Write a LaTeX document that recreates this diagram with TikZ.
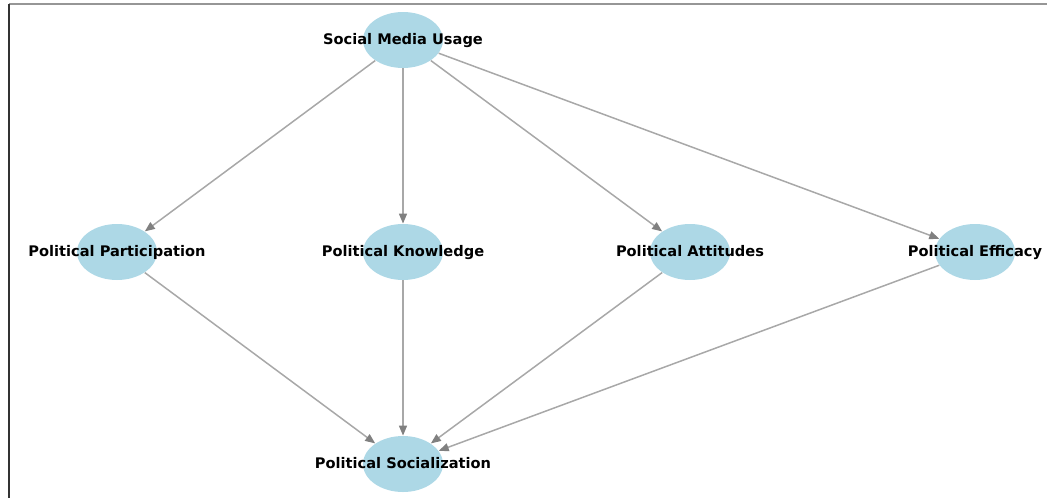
\documentclass[tikz,border=0pt]{standalone}
\usepackage{fontspec}
\setsansfont{DejaVu Sans}
\usetikzlibrary{shapes.geometric,arrows.meta}
\definecolor{NodeBlue}{RGB}{173,216,230}
\definecolor{EdgeGray}{RGB}{168,168,168}
\definecolor{FrameGray}{RGB}{150,150,150}
\tikzset{
  var/.style={ellipse,fill=NodeBlue,minimum width=40pt,minimum height=28pt,inner sep=0pt},
  lbl/.style={font=\sffamily\bfseries\fontsize{7.3}{8}\selectfont,inner sep=0pt,text height=5.4pt,text depth=1.4pt},
  link/.style={draw=EdgeGray,line width=0.75pt,-{Triangle[length=5pt,width=4pt,color=gray]}},
}

\begin{document}
\begin{tikzpicture}[x=0.5pt,y=-0.5pt]
\useasboundingbox (0,0) rectangle (1047,498);
% frame
\draw[FrameGray,line width=1pt] (9,4) -- (1047,4);
\draw[black!80,line width=1pt] (9,4) -- (9,498);
% variables
\node[var] (smu) at (403,40) {};
\node[var] (pp) at (117,252) {};
\node[var] (pk) at (403,252) {};
\node[var] (pa) at (690,252) {};
\node[var] (pe) at (975,252) {};
\node[var] (ps) at (403,464) {};
% links
\draw[link] (smu) -- (pp);
\draw[link] (smu) -- (pk);
\draw[link] (smu) -- (pa);
\draw[link] (smu) -- (pe);
\draw[link] (pp) -- (ps);
\draw[link] (pk) -- (ps);
\draw[link] (pa) -- (ps);
\draw[link] (pe) -- (ps);
% labels
\node[lbl] (smu-t) at (smu) {Social Media Usage};
\node[lbl] (pp-t) at (pp) {Political Participation};
\node[lbl] (pk-t) at (pk) {Political Knowledge};
\node[lbl] (pa-t) at (pa) {Political Attitudes};
\node[lbl] (pe-t) at (pe) {Political Efficacy};
\node[lbl] (ps-t) at (ps) {Political Socialization};
\end{tikzpicture}
\end{document}
